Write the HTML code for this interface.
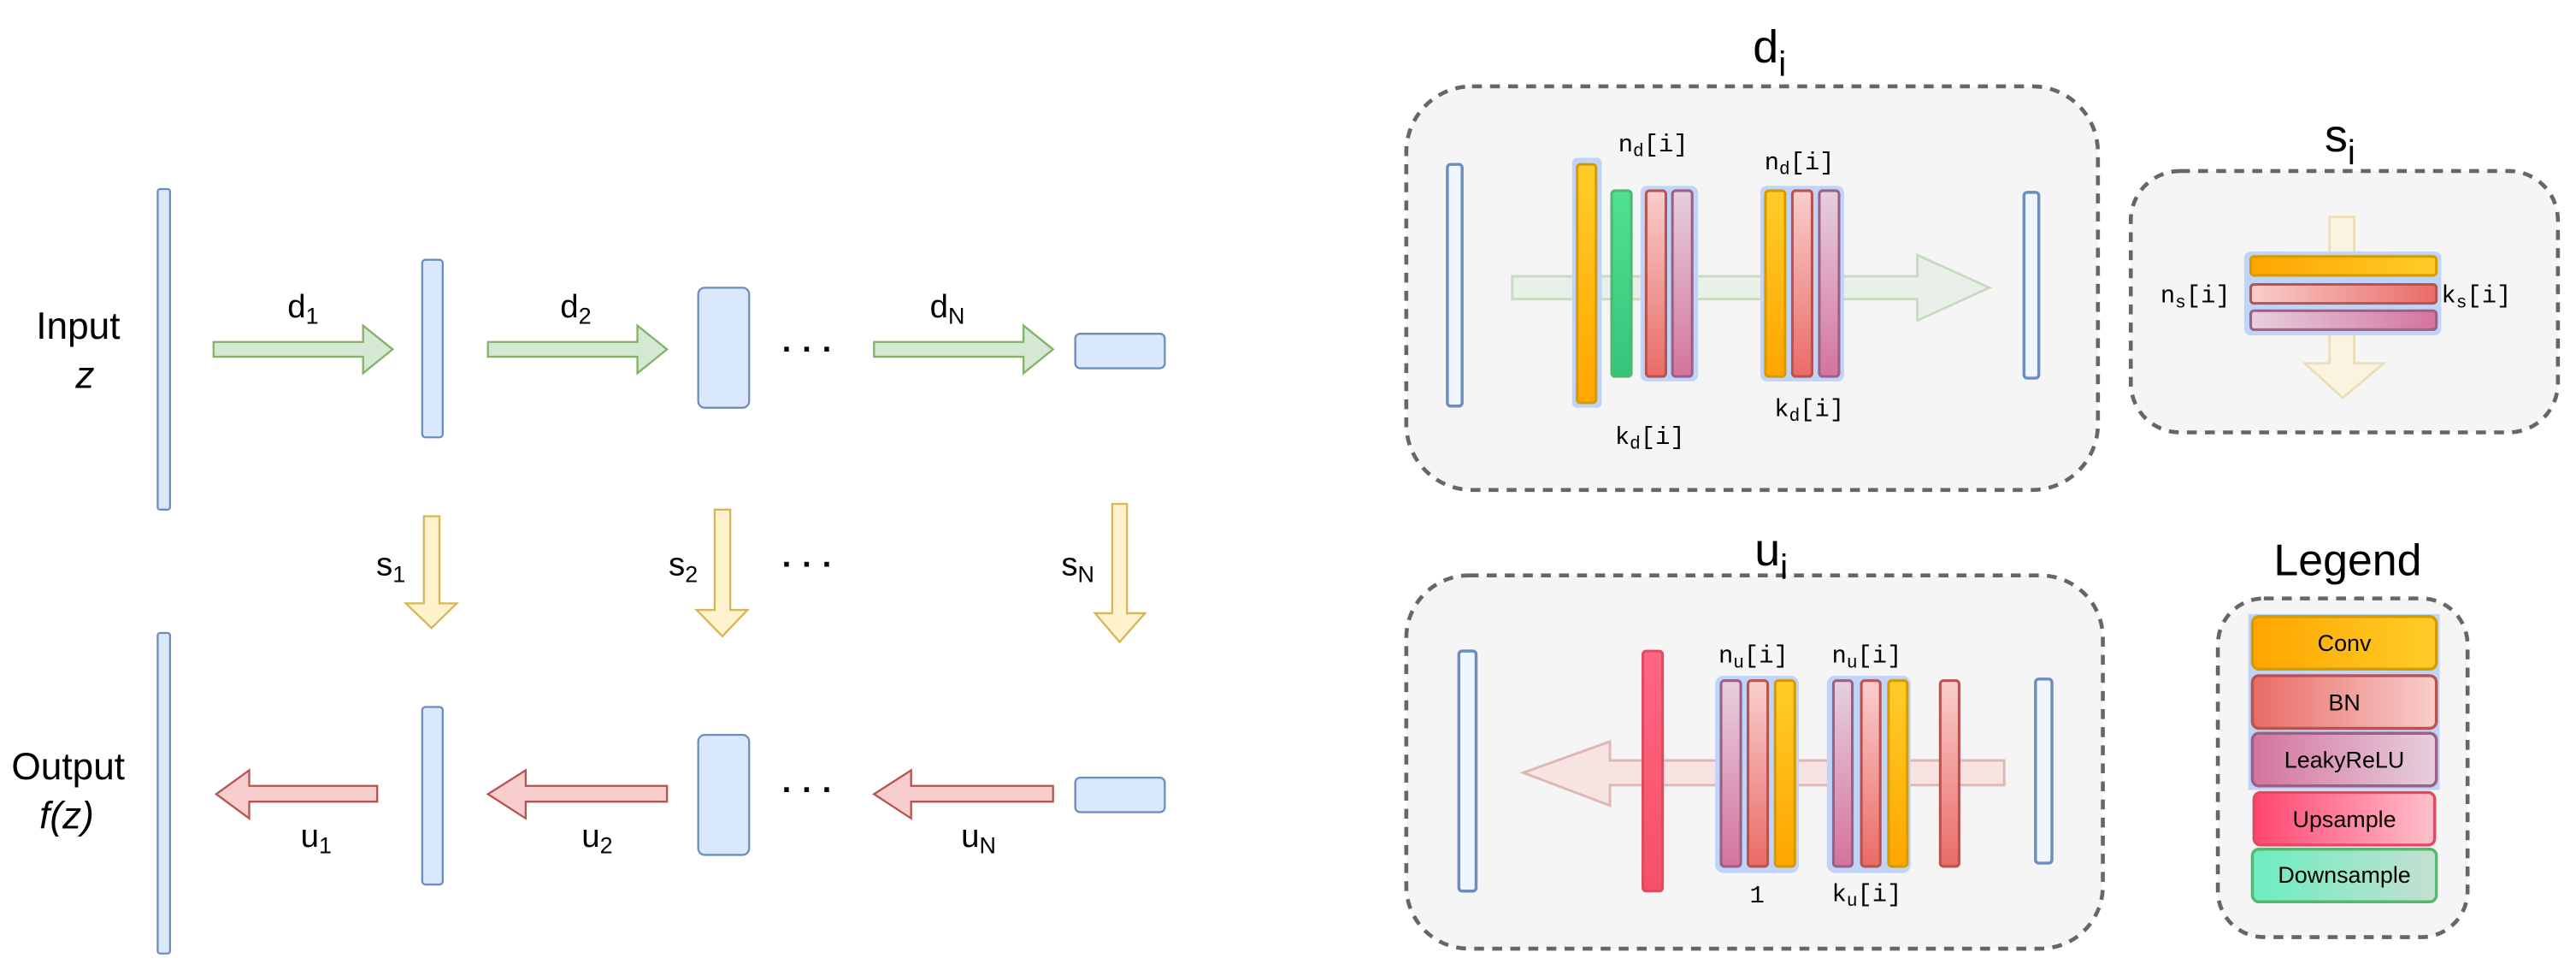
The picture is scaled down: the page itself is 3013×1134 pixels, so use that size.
<!DOCTYPE html>
<html><head><meta charset="utf-8"><style>
html,body{margin:0;padding:0;background:#fff;}
svg{display:block;}
text{font-family:"Liberation Sans",sans-serif;fill:#000;}
.m{font-family:"Liberation Mono",monospace;font-size:15px;}
</style></head><body>
<svg width="3013" height="1134" viewBox="0 0 1568 590" preserveAspectRatio="none" xmlns="http://www.w3.org/2000/svg">
<defs>
<linearGradient id="og" x1="0" y1="0" x2="0" y2="1"><stop offset="0" stop-color="#ffcd28"/><stop offset="1" stop-color="#ffa500"/></linearGradient>
<linearGradient id="ogh" x1="1" y1="0" x2="0" y2="0"><stop offset="0" stop-color="#ffcd28"/><stop offset="1" stop-color="#ffa500"/></linearGradient>
<linearGradient id="rg" x1="0" y1="0" x2="0" y2="1"><stop offset="0" stop-color="#f8cecc"/><stop offset="1" stop-color="#ea6b66"/></linearGradient>
<linearGradient id="rgh" x1="0" y1="0" x2="1" y2="0"><stop offset="0" stop-color="#f8cecc"/><stop offset="1" stop-color="#ea6b66"/></linearGradient>
<linearGradient id="rgl" x1="1" y1="0" x2="0" y2="0"><stop offset="0" stop-color="#f8cecc"/><stop offset="1" stop-color="#ea6b66"/></linearGradient>
<linearGradient id="pg" x1="0" y1="0" x2="0" y2="1"><stop offset="0" stop-color="#e6d0de"/><stop offset="1" stop-color="#d5739d"/></linearGradient>
<linearGradient id="pgh" x1="0" y1="0" x2="1" y2="0"><stop offset="0" stop-color="#e6d0de"/><stop offset="1" stop-color="#d5739d"/></linearGradient>
<linearGradient id="pgl" x1="1" y1="0" x2="0" y2="0"><stop offset="0" stop-color="#e6d0de"/><stop offset="1" stop-color="#d5739d"/></linearGradient>
<linearGradient id="gg" x1="0" y1="0" x2="0" y2="1"><stop offset="0" stop-color="#52e093"/><stop offset="1" stop-color="#35c47a"/></linearGradient>
<linearGradient id="ggl" x1="0" y1="0" x2="1" y2="0"><stop offset="0" stop-color="#6cedc0"/><stop offset="1" stop-color="#c5e0d0"/></linearGradient>
<linearGradient id="ug" x1="0" y1="0" x2="0" y2="1"><stop offset="0" stop-color="#ff6680"/><stop offset="1" stop-color="#f5506a"/></linearGradient>
<linearGradient id="ugl" x1="0" y1="0" x2="1" y2="0"><stop offset="0" stop-color="#ff4570"/><stop offset="1" stop-color="#ffc0cb"/></linearGradient>
</defs>

<!-- LEFT DIAGRAM -->
<g fill="#dae8fc" stroke="#6c8ebf" stroke-width="1.2">
<rect x="96" y="115" width="7.5" height="195" rx="1.5"/>
<rect x="96" y="385" width="7.5" height="195" rx="1.5"/>
<rect x="257" y="158" width="12.5" height="108" rx="2"/>
<rect x="257" y="430" width="12.5" height="108" rx="2"/>
<rect x="425" y="175" width="31" height="73" rx="4"/>
<rect x="425" y="447" width="31" height="73" rx="4"/>
<rect x="654.5" y="203" width="54.5" height="21" rx="3"/>
<rect x="654.5" y="473" width="54.5" height="21" rx="3"/>
</g>
<g fill="#d5e8d4" stroke="#82b366" stroke-width="1.2">
<path d="M130 208 H221 V198 L239 212.5 L221 227 V217 H130 Z"/>
<path d="M297 208 H388 V198 L406 212.5 L388 227 V217 H297 Z"/>
<path d="M532 208 H623 V198 L641 212.5 L623 227 V217 H532 Z"/>
</g>
<g fill="#fff2cc" stroke="#d6b656" stroke-width="1.2">
<path d="M258 314 H267.5 V367 H278 L262.7 382 L247 367 H258 Z"/>
<path d="M435 310 H444.5 V371 H455 L439.7 387 L424 371 H435 Z"/>
<path d="M677 306.5 H686 V373 H697 L681.5 390.5 L666.5 373 H677 Z"/>
</g>
<g fill="#f8cecc" stroke="#b85450" stroke-width="1.2">
<path d="M229.6 478 H151.7 V468.5 L131.6 483 L151.7 497.8 V487.6 H229.6 Z"/>
<path d="M406 478 H320 V468.5 L297 483 L320 497.8 V487.6 H406 Z"/>
<path d="M641 478 H554.6 V468.5 L532 483 L554.6 497.8 V487.6 H641 Z"/>
</g>
<g font-size="20">
<text x="175" y="193">d<tspan font-size="14" dy="4">1</tspan></text>
<text x="341" y="193">d<tspan font-size="14" dy="4">2</tspan></text>
<text x="566" y="193">d<tspan font-size="14" dy="4">N</tspan></text>
<text x="229" y="350">s<tspan font-size="14" dy="4">1</tspan></text>
<text x="407" y="350">s<tspan font-size="14" dy="4">2</tspan></text>
<text x="646" y="350">s<tspan font-size="14" dy="4">N</tspan></text>
<text x="183" y="515">u<tspan font-size="14" dy="4">1</tspan></text>
<text x="354" y="515">u<tspan font-size="14" dy="4">2</tspan></text>
<text x="585" y="515">u<tspan font-size="14" dy="4">N</tspan></text>
</g>
<g font-size="20" font-weight="bold">
<text x="476" y="219">· · ·</text>
<text x="476" y="350">· · ·</text>
<text x="476" y="487">· · ·</text>
</g>
<text x="22" y="206" font-size="23">Input</text>
<text x="46" y="236" font-size="23" font-style="italic">z</text>
<text x="7" y="474" font-size="23">Output</text>
<text x="24" y="504" font-size="23" font-style="italic">f(z)</text>

<!-- RIGHT: boxes -->
<g fill="#f5f5f5" stroke="#666" stroke-width="2.4" stroke-dasharray="6 5">
<rect x="856" y="52.5" width="421" height="245.5" rx="40"/>
<rect x="1297" y="104" width="260" height="159" rx="30"/>
<rect x="856" y="350" width="424" height="227" rx="38"/>
<rect x="1350" y="364" width="152" height="206" rx="28"/>
</g>
<text x="1067" y="38" font-size="28">d<tspan font-size="21" dy="8">i</tspan></text>
<text x="1415" y="92" font-size="28">s<tspan font-size="21" dy="8">i</tspan></text>
<text x="1068" y="344" font-size="28">u<tspan font-size="21" dy="8">i</tspan></text>
<text x="1384" y="350" font-size="27">Legend</text>

<!-- d_i contents -->
<path d="M920.5 168 H1167 V155 L1211 175 L1167 195 V182 H920.5 Z" fill="#d5e8d4" fill-opacity="0.35" stroke="#82b366" stroke-opacity="0.35" stroke-width="1.5"/>
<rect x="881" y="100" width="9" height="147" rx="2" fill="#f0f6ff" stroke="#6c8ebf" stroke-width="1.8"/>
<rect x="1232" y="117" width="9" height="113" rx="2" fill="#f0f6ff" stroke="#6c8ebf" stroke-width="1.8"/>
<g fill="#c0d4fa">
<rect x="957" y="96" width="18" height="152" rx="3"/>
<rect x="998.6" y="113" width="35" height="119" rx="4"/>
<rect x="1071.5" y="113" width="51" height="119" rx="4"/>
</g>
<g stroke-width="1.6">
<rect x="960" y="100" width="11.5" height="145" rx="2" fill="url(#og)" stroke="#d79b00"/>
<rect x="981" y="116" width="12" height="113" rx="2" fill="url(#gg)" stroke="#4fb872"/>
<rect x="1002" y="116" width="12" height="113" rx="2" fill="url(#rg)" stroke="#b85450"/>
<rect x="1018" y="116" width="12" height="113" rx="2" fill="url(#pg)" stroke="#996185"/>
<rect x="1074.6" y="116" width="12" height="113" rx="2" fill="url(#og)" stroke="#d79b00"/>
<rect x="1091" y="116" width="12" height="113" rx="2" fill="url(#rg)" stroke="#b85450"/>
<rect x="1107.4" y="116" width="12" height="113" rx="2" fill="url(#pg)" stroke="#996185"/>
</g>
<text class="m" x="985" y="92">n<tspan font-size="11" dy="3">d</tspan><tspan dy="-3">[i]</tspan></text>
<text class="m" x="1074" y="103">n<tspan font-size="11" dy="3">d</tspan><tspan dy="-3">[i]</tspan></text>
<text class="m" x="983" y="270">k<tspan font-size="11" dy="3">d</tspan><tspan dy="-3">[i]</tspan></text>
<text class="m" x="1080" y="253">k<tspan font-size="11" dy="3">d</tspan><tspan dy="-3">[i]</tspan></text>

<!-- s_i contents -->
<path d="M1418 132 H1433 V221 H1451 L1426 242 L1403 221 H1418 Z" fill="#fff2cc" fill-opacity="0.5" stroke="#d6b656" stroke-opacity="0.35" stroke-width="1.5"/>
<rect x="1366" y="153" width="120" height="51" rx="4" fill="#c0d4fa"/>
<g stroke-width="1.6">
<rect x="1370" y="156" width="113" height="11.5" rx="2" fill="url(#ogh)" stroke="#d79b00"/>
<rect x="1370" y="173" width="113" height="11.5" rx="2" fill="url(#rgh)" stroke="#b85450"/>
<rect x="1370" y="189" width="113" height="11.5" rx="2" fill="url(#pgh)" stroke="#996185"/>
</g>
<text class="m" x="1315" y="184">n<tspan font-size="11" dy="3">s</tspan><tspan dy="-3">[i]</tspan></text>
<text class="m" x="1486" y="184">k<tspan font-size="11" dy="3">s</tspan><tspan dy="-3">[i]</tspan></text>

<!-- u_i contents -->
<path d="M1220 462.5 H980 V451 L927 470 L980 490 V477.6 H1220 Z" fill="#f8cecc" fill-opacity="0.45" stroke="#b85450" stroke-opacity="0.35" stroke-width="1.5"/>
<rect x="888" y="396" width="10.5" height="146" rx="2" fill="#f0f6ff" stroke="#6c8ebf" stroke-width="1.8"/>
<rect x="1239" y="413" width="10" height="112" rx="2" fill="#f0f6ff" stroke="#6c8ebf" stroke-width="1.8"/>
<rect x="1000" y="396" width="12" height="146" rx="2" fill="url(#ug)" stroke="#e04b62" stroke-width="1.6"/>
<g fill="#c0d4fa">
<rect x="1044" y="411" width="51" height="120" rx="5"/>
<rect x="1112" y="411" width="51" height="120" rx="5"/>
</g>
<g stroke-width="1.6">
<rect x="1047.6" y="414" width="12" height="113" rx="2" fill="url(#pg)" stroke="#996185"/>
<rect x="1064" y="414" width="12" height="113" rx="2" fill="url(#rg)" stroke="#b85450"/>
<rect x="1080.5" y="414" width="12" height="113" rx="2" fill="url(#og)" stroke="#d79b00"/>
<rect x="1116" y="414" width="11.5" height="113" rx="2" fill="url(#pg)" stroke="#996185"/>
<rect x="1133" y="414" width="11.5" height="113" rx="2" fill="url(#rg)" stroke="#b85450"/>
<rect x="1149.5" y="414" width="11.5" height="113" rx="2" fill="url(#og)" stroke="#d79b00"/>
<rect x="1181" y="414" width="11.5" height="113" rx="2" fill="url(#rg)" stroke="#b85450"/>
</g>
<text class="m" x="1046" y="403">n<tspan font-size="11" dy="3">u</tspan><tspan dy="-3">[i]</tspan></text>
<text class="m" x="1115" y="403">n<tspan font-size="11" dy="3">u</tspan><tspan dy="-3">[i]</tspan></text>
<text class="m" x="1065" y="549">1</text>
<text class="m" x="1115" y="548">k<tspan font-size="11" dy="3">u</tspan><tspan dy="-3">[i]</tspan></text>

<!-- Legend -->
<rect x="1368.5" y="373.5" width="116.5" height="107" fill="#c0d4fa"/>
<g stroke-width="1.8" font-size="12.5">
<rect x="1371" y="375" width="112" height="32" rx="4" fill="url(#ogh)" stroke="#d79b00"/>
<rect x="1371" y="411" width="112" height="32" rx="4" fill="url(#rgl)" stroke="#b85450"/>
<rect x="1371" y="446" width="112" height="32" rx="4" fill="url(#pgl)" stroke="#996185"/>
<rect x="1372" y="482" width="110" height="32" rx="4" fill="url(#ugl)" stroke="#e04b62"/>
<rect x="1371" y="516.5" width="112" height="32" rx="4" fill="url(#ggl)" stroke="#55b870"/>
</g>
<g font-size="14" text-anchor="middle">
<text x="1427" y="396">Conv</text>
<text x="1427" y="432">BN</text>
<text x="1427" y="467">LeakyReLU</text>
<text x="1427" y="503">Upsample</text>
<text x="1427" y="537">Downsample</text>
</g>
</svg>
</body></html>
